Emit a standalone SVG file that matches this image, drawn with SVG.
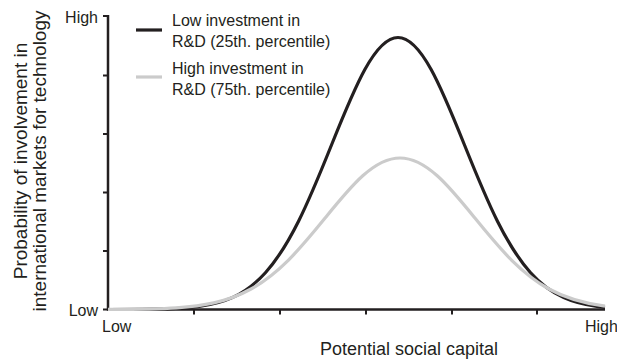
<svg xmlns="http://www.w3.org/2000/svg" width="617" height="364" viewBox="0 0 617 364">
<style>
text{font-family:"Liberation Sans",Arial,sans-serif;fill:#231f20}
.tick{font-size:16px}
.leg{font-size:16px}
.title{font-size:18px}
.ytitle{font-size:19px}
.axis{stroke:#231f20;stroke-width:2.5;fill:none}
.tk{stroke:#231f20;stroke-width:2;fill:none}
.low{stroke:#231f20;stroke-width:3.2;fill:none}
.high{stroke:#cbcbcb;stroke-width:3.2;fill:none}
</style>
<rect width="617" height="364" fill="#fff"/>
<g id="axes">
<path class="axis" d="M108,15 V310.5 M107,309.5 H605"/>
<path class="tk" d="M103,16 H108 M103,75.5 H108 M103,134 H108 M103,192.5 H108 M103,251 H108 M103,309.5 H108"/>
<path class="tk" d="M194,309.5 V314.5 M280,309.5 V314.5 M366,309.5 V314.5 M452,309.5 V314.5 M537,309.5 V314.5"/>
</g>
<g id="labels">
<text class="tick" x="98" y="23" text-anchor="end">High</text>
<text class="tick" x="98" y="316" text-anchor="end">Low</text>
<text class="tick" x="102" y="332">Low</text>
<text class="tick" x="585" y="332">High</text>
<text class="title" x="409" y="355" text-anchor="middle">Potential social capital</text>
<text class="ytitle" transform="translate(27,161) rotate(-90)" text-anchor="middle">Probability of involvement in</text>
<text class="ytitle" transform="translate(46,161) rotate(-90)" text-anchor="middle">international markets for technology</text>
</g>
<g id="legend">
<line x1="136" y1="30" x2="162" y2="30" class="low"/>
<text class="leg" x="172" y="26">Low investment in</text>
<text class="leg" x="172" y="47">R&amp;D (25th. percentile)</text>
<line x1="136" y1="77" x2="162" y2="77" class="high"/>
<text class="leg" x="172" y="74">High investment in</text>
<text class="leg" x="172" y="95">R&amp;D (75th. percentile)</text>
</g>
<g id="curves">
<path id="curve-low" class="low" d="M108,309.5 C127.32,309.5 146.63,309.51 165.95,308.9 C177,308.55 188.05,308.01 199.1,306.5 C221.2,303.48 243.3,297.23 265.4,272.7 C276.45,260.43 287.5,243.28 298.55,221.2 C309.6,199.12 320.65,172 331.7,144.5 C342.75,117 353.8,89.5 364.85,69.5 C375.9,49.5 386.95,37.5 398,37.5 C409.05,37.5 420.1,49.5 431.15,69.5 C442.2,89.5 453.25,117 464.3,144.5 C475.35,172 486.4,199.12 497.45,221.2 C508.5,243.28 519.55,260.43 530.6,272.7 C552.7,297.23 574.8,303.48 596.9,306.5 C599.6,306.87 602.3,307.14 605,307.4"/>
<path id="curve-high" class="high" d="M108,309.43 C130.83,309.35 153.67,309.35 176.5,307.8 C201.33,306.12 226.17,302.67 251,289 C263.42,282.17 275.83,272.6 288.25,260.3 C300.67,248 313.08,232.92 325.5,217.6 C337.92,202.28 350.33,186.94 362.75,175.8 C375.17,164.66 387.58,158 400,158 C412.42,158 424.83,164.66 437.25,175.8 C449.67,186.94 462.08,202.28 474.5,217.6 C486.92,232.92 499.33,248 511.75,260.3 C524.17,272.6 536.58,282.17 549,289 C567.67,299.27 586.33,303.69 605,306.06"/>
</g>
</svg>
